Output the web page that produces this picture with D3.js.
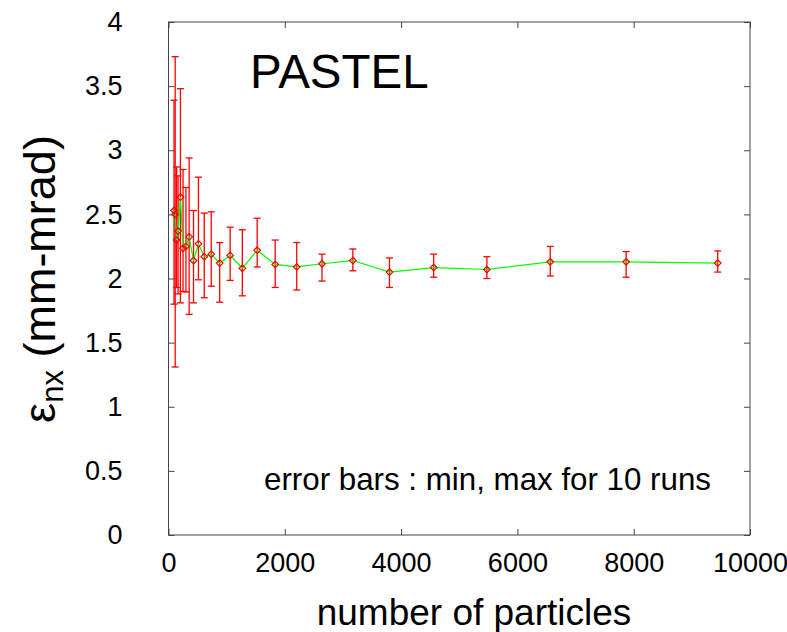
<!DOCTYPE html>
<html>
<head>
<meta charset="utf-8">
<script src="https://cdn.jsdelivr.net/npm/d3@7"></script>
<style>
  body { margin: 0; background: #fff; }
  text { font-family: "Liberation Sans", Arial, sans-serif; fill: #000; }
</style>
</head>
<body>
<div id="container"></div>
<script>
/**
 * DATA
 * */
const particles = [95, 115, 140, 165, 205, 250, 300, 355, 430, 515, 615, 735, 880, 1060, 1270,
    1525, 1835, 2205, 2640, 3170, 3800, 4560, 5475, 6565, 7870, 9445];
const emitMean = [2.53, 2.50, 2.30, 2.37, 2.635, 2.235, 2.25, 2.325, 2.14, 2.27, 2.17, 2.19, 2.12, 2.18, 2.08,
    2.22, 2.11, 2.09, 2.115, 2.14, 2.05, 2.085, 2.07, 2.13, 2.13, 2.12];
const emitMax = [3.39, 3.73, 2.87, 2.80, 3.48, 2.85, 2.71, 2.94, 2.53, 2.79, 2.51, 2.52, 2.28, 2.40, 2.38,
    2.47, 2.30, 2.28, 2.19, 2.23, 2.16, 2.19, 2.17, 2.25, 2.21, 2.215];
const emitMin = [1.80, 1.31, 1.93, 1.88, 1.81, 1.90, 1.895, 1.72, 1.81, 1.99, 1.85, 1.94, 1.815, 1.985, 1.865,
    2.09, 1.93, 1.91, 1.98, 2.06, 1.93, 2.01, 2.00, 2.02, 2.01, 2.05];
const xTicks = [0, 2000, 4000, 6000, 8000, 10000];
const yTicks = [0, 0.5, 1, 1.5, 2, 2.5, 3, 3.5, 4];

/**
 * CONSTANTS
 * */
const width = 787,
    height = 632,
    margin = { top: 22, bottom: 97, left: 168.5, right: 37 };

const rows = particles.map((n, i) => ({ n: n, y: emitMean[i], lo: emitMin[i], hi: emitMax[i] }));

const svg = d3.select("#container")
    .append("svg")
    .attr("width", width)
    .attr("height", height);

const xScale = d3.scaleLinear()
    .domain([0, 10000])
    .range([margin.left, width - margin.right]);

const yScale = d3.scaleLinear()
    .domain([0, 4])
    .range([height - margin.bottom, margin.top]);

// frame
svg.append("rect")
    .attr("x", xScale(0))
    .attr("y", yScale(4))
    .attr("width", xScale(10000) - xScale(0))
    .attr("height", yScale(0) - yScale(4))
    .attr("fill", "none")
    .attr("stroke", "#444")
    .attr("stroke-width", 1);

// axes (ticks point inward, mirrored on top/right)
svg.append("g")
    .attr("transform", `translate(0,${yScale(0)})`)
    .call(d3.axisBottom(xScale).tickValues(xTicks).tickSize(-6).tickSizeOuter(0).tickPadding(18).tickFormat(d3.format("d")));

svg.append("g")
    .attr("transform", `translate(${xScale(0)},0)`)
    .call(d3.axisLeft(yScale).tickValues(yTicks).tickSize(-6).tickSizeOuter(0).tickPadding(46).tickFormat(d => d));

svg.append("g")
    .attr("transform", `translate(0,${yScale(4)})`)
    .call(d3.axisTop(xScale).tickValues(xTicks).tickSize(-6).tickSizeOuter(0).tickFormat(""));

svg.append("g")
    .attr("transform", `translate(${xScale(10000)},0)`)
    .call(d3.axisRight(yScale).tickValues(yTicks).tickSize(-6).tickSizeOuter(0).tickFormat(""));

svg.selectAll(".domain").remove();
svg.selectAll(".tick line").attr("stroke", "#444");
svg.selectAll(".tick text")
    .style("font-size", "27px")
    .style("font-family", "'Liberation Sans', Arial, sans-serif");

// error bars
const bars = svg.append("g").attr("stroke", "#ff0000").attr("stroke-width", 1.3);
bars.selectAll(".ebar")
    .data(rows)
    .join("line")
    .attr("class", "ebar")
    .attr("x1", d => xScale(d.n))
    .attr("x2", d => xScale(d.n))
    .attr("y1", d => yScale(d.lo))
    .attr("y2", d => yScale(d.hi));

bars.selectAll(".capTop")
    .data(rows)
    .join("line")
    .attr("class", "capTop")
    .attr("x1", d => xScale(d.n) - 3.5)
    .attr("x2", d => xScale(d.n) + 3.5)
    .attr("y1", d => yScale(d.hi))
    .attr("y2", d => yScale(d.hi));

bars.selectAll(".capBot")
    .data(rows)
    .join("line")
    .attr("class", "capBot")
    .attr("x1", d => xScale(d.n) - 3.5)
    .attr("x2", d => xScale(d.n) + 3.5)
    .attr("y1", d => yScale(d.lo))
    .attr("y2", d => yScale(d.lo));

// mean line
const line = d3.line()
    .x(d => xScale(d.n))
    .y(d => yScale(d.y));

svg.append("path")
    .datum(rows)
    .attr("d", line)
    .attr("fill", "none")
    .attr("stroke", "#00ff00")
    .attr("stroke-width", 1.2);

// markers
svg.selectAll(".pt")
    .data(rows)
    .join("path")
    .attr("class", "pt")
    .attr("transform", d => `translate(${xScale(d.n)},${yScale(d.y)})`)
    .attr("d", d3.symbol().type(d3.symbolDiamond2).size(28))
    .attr("fill", "none")
    .attr("stroke", "#ff0000")
    .attr("stroke-width", 1.2);

// labels
svg.append("text")
    .attr("x", 250)
    .attr("y", 88)
    .style("font-size", "47.5px")
    .text("PASTEL");

svg.append("text")
    .attr("x", 711)
    .attr("y", 490)
    .attr("text-anchor", "end")
    .style("font-size", "31.3px")
    .text("error bars : min, max for 10 runs");

svg.append("text")
    .attr("x", 474)
    .attr("y", 625)
    .attr("text-anchor", "middle")
    .style("font-size", "37px")
    .text("number of particles");

const yTitle = svg.append("text")
    .attr("transform", "translate(55,279) rotate(-90)")
    .attr("text-anchor", "middle")
    .style("font-size", "45px");
yTitle.append("tspan").text("ε");
yTitle.append("tspan").attr("dy", 8).style("font-size", "31px").text("nx");
yTitle.append("tspan").attr("dy", -8).text(" (mm-mrad)");
</script>
</body>
</html>
